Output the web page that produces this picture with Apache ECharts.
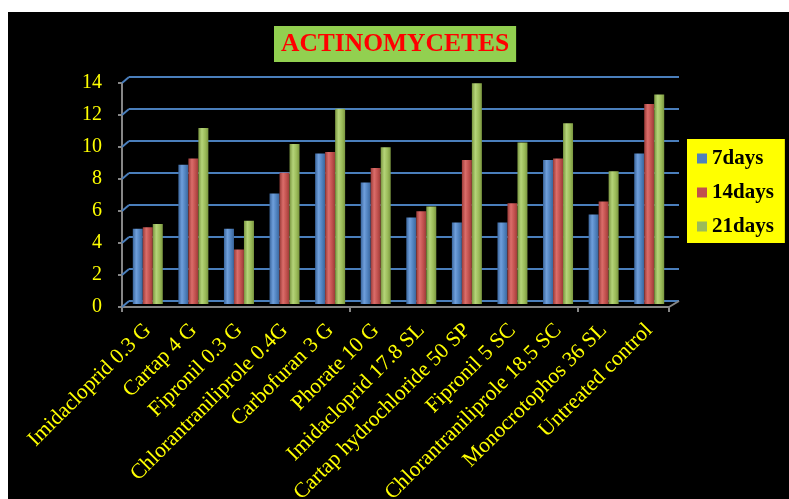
<!DOCTYPE html>
<html>
<head>
<meta charset="utf-8">
<title>ACTINOMYCETES</title>
<script src="https://cdn.jsdelivr.net/npm/echarts@6/dist/echarts.min.js"></script>
<style>
  html, body { margin: 0; padding: 0; background: #ffffff; }
  #panel { position: absolute; left: 8px; top: 12px; width: 781px; height: 487px; background: #000000; }
  #chart { position: absolute; left: 0; top: 0; width: 789px; height: 499px; }
</style>
</head>
<body>
<div id="panel"></div>
<div id="chart"></div>
<script>
// Treatments on the category axis
const categories = [
  'Imidacloprid 0.3 G', 'Cartap 4 G', 'Fipronil 0.3 G', 'Chlorantraniliprole 0.4G',
  'Carbofuran 3 G', 'Phorate 10 G', 'Imidacloprid 17.8 SL', 'Cartap hydrochloride 50 SP',
  'Fipronil 5 SC', 'Chlorantraniliprole 18.5 SC', 'Monocrotophos 36 SL', 'Untreated control'
];

// Actinomycetes counts after each interval
const days7  = [4.7, 8.7, 4.7, 6.9, 9.4, 7.6, 5.4, 5.1, 5.1, 9.0, 5.6, 9.4];
const days14 = [4.8, 9.1, 3.4, 8.2, 9.5, 8.5, 5.8, 9.0, 6.3, 9.1, 6.4, 12.5];
const days21 = [5.0, 11.0, 5.2, 10.0, 12.2, 9.8, 6.1, 13.8, 10.1, 11.3, 8.3, 13.1];

const seriesNames = ['7days', '14days', '21days'];
const yTicks = ['0', '2', '4', '6', '8', '10', '12', '14'];

const Y_MIN = Number(yTicks[0]);
const Y_MAX = Number(yTicks[yTicks.length - 1]);
const Y_STEP = Number(yTicks[1]) - Number(yTicks[0]);

const SERIF = "'Liberation Serif', 'Times New Roman', serif";
const YELLOW = '#ffff00';
const GRID_BLUE = '#4a7ebb';
const AXIS_GREY = '#868686';

// Three planes of the pseudo-3D box: front (axes), middle (columns), back (wall grid)
const FRONT = { left: 122, right: 120, top: 83, bottom: 192 };
const MID   = { left: 125, right: 117, top: 80, bottom: 195 };
const BACK  = { left: 129, right: 110, top: 77, bottom: 198 };

function cylinder(dark, light, base) {
  return new echarts.graphic.LinearGradient(0, 0, 1, 0, [
    { offset: 0, color: dark },
    { offset: 0.35, color: light },
    { offset: 0.7, color: base },
    { offset: 1, color: dark }
  ]);
}
const fills = [
  cylinder('#3a659b', '#6f9fdc', '#4f81bd'),
  cylinder('#9a3b38', '#db6d6a', '#c0504d'),
  cylinder('#7a9640', '#b5d479', '#9bbb59')
];
const legendColors = ['#4f81bd', '#c0504d', '#9bbb59'];

const valueAxisBase = { type: 'value', min: Y_MIN, max: Y_MAX, interval: Y_STEP };

function plane(rect) {
  return Object.assign({ containLabel: false, outerBoundsMode: 'none' }, rect);
}

const chart = echarts.init(document.getElementById('chart'), null, { renderer: 'canvas' });

const option = {
  backgroundColor: 'transparent',
  animation: false,
  title: {
    text: 'ACTINOMYCETES',
    left: 274,
    top: 26,
    padding: [5, 7],
    backgroundColor: '#92d050',
    textStyle: {
      color: '#ff0000',
      fontFamily: SERIF,
      fontWeight: 'bold',
      fontSize: 25.5,
      lineHeight: 26
    }
  },
  legend: {
    orient: 'vertical',
    left: 687,
    top: 139,
    padding: [9, 11, 6, 10],
    itemGap: 13,
    itemWidth: 10,
    itemHeight: 10,
    icon: 'rect',
    backgroundColor: YELLOW,
    data: seriesNames.map((n, i) => ({ name: n, itemStyle: { color: legendColors[i] } })),
    textStyle: {
      color: '#000000',
      fontFamily: SERIF,
      fontWeight: 'bold',
      fontSize: 21
    }
  },
  grid: [plane(FRONT), plane(BACK), plane(MID)],
  xAxis: [
    {
      type: 'category', gridIndex: 0, data: categories,
      axisLine: { show: true, lineStyle: { color: AXIS_GREY, width: 2 } },
      axisTick: { show: true, length: 5, lineStyle: { color: AXIS_GREY, width: 2 } },
      axisLabel: { show: false },
      splitLine: { show: false }
    },
    {
      type: 'category', gridIndex: 1, data: categories, show: false
    },
    {
      type: 'category', gridIndex: 2, data: categories,
      axisLine: { show: false },
      axisTick: { show: false },
      splitLine: { show: false },
      axisLabel: {
        show: true,
        interval: 0,
        rotate: 45,
        margin: 23,
        color: YELLOW,
        fontFamily: SERIF,
        fontSize: 21.5
      }
    }
  ],
  yAxis: [
    Object.assign({}, valueAxisBase, {
      gridIndex: 0,
      axisLine: { show: true, lineStyle: { color: AXIS_GREY, width: 2 } },
      axisTick: { show: true, length: 4, lineStyle: { color: AXIS_GREY, width: 2 } },
      axisLabel: { color: YELLOW, fontFamily: SERIF, fontSize: 20, margin: 20 },
      splitLine: { show: false }
    }),
    Object.assign({}, valueAxisBase, {
      gridIndex: 1,
      axisLine: { show: false },
      axisTick: { show: false },
      axisLabel: { show: false },
      splitLine: { show: true, lineStyle: { color: GRID_BLUE, width: 2 } }
    }),
    Object.assign({}, valueAxisBase, {
      gridIndex: 2,
      show: false,
      splitLine: { show: false }
    })
  ],
  series: [days7, days14, days21].map((vals, i) => ({
    name: seriesNames[i],
    type: 'bar',
    xAxisIndex: 2,
    yAxisIndex: 2,
    data: vals,
    barWidth: 10,
    barGap: '0%',
    itemStyle: { color: fills[i] },
    z: 3
  }))
};

chart.setOption(option);

// Side-wall and floor edges joining the front axis to the back wall
const edges = [];
yTicks.forEach((t) => {
  const v = Number(t);
  const yf = chart.convertToPixel({ yAxisIndex: 0 }, v);
  const yb = chart.convertToPixel({ yAxisIndex: 1 }, v);
  edges.push({
    type: 'line',
    z: 1,
    shape: { x1: FRONT.left, y1: yf, x2: BACK.left, y2: yb },
    style: { stroke: GRID_BLUE, lineWidth: 2 }
  });
});
const yf0 = chart.convertToPixel({ yAxisIndex: 0 }, Y_MIN);
const yb0 = chart.convertToPixel({ yAxisIndex: 1 }, Y_MIN);
const W = chart.getWidth();
edges.push({
  type: 'line',
  z: 1,
  shape: { x1: W - FRONT.right, y1: yf0, x2: W - BACK.right, y2: yb0 },
  style: { stroke: AXIS_GREY, lineWidth: 2 }
});
chart.setOption({ graphic: edges });
</script>
</body>
</html>
